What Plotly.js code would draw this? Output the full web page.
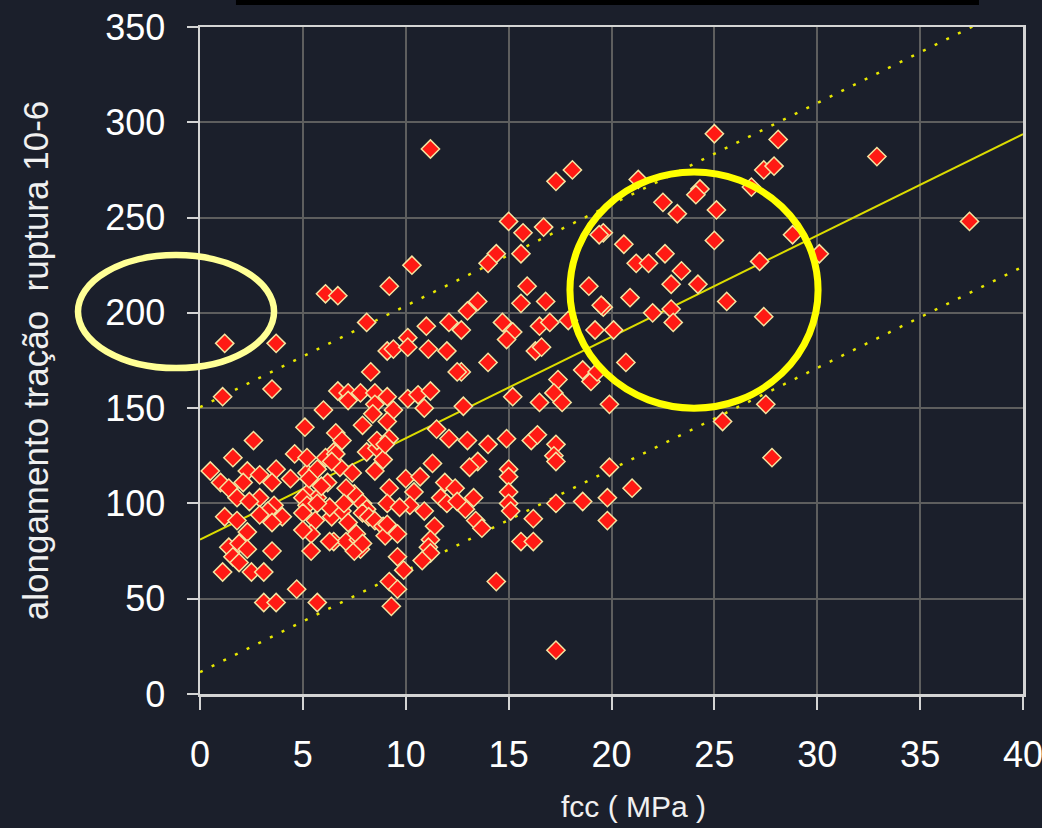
<!DOCTYPE html>
<html>
<head>
<meta charset="utf-8">
<script src="https://cdn.plot.ly/plotly-3.0.1.min.js"></script>
<style>
  html, body { margin: 0; padding: 0; background: rgb(27,31,43); }
  #chart { width: 1042px; height: 828px; }
</style>
</head>
<body>
<div id="chart"></div>
<script>
// Resistência à compressão (fcc, MPa) e alongamento de ruptura à tração (10^-6)
const fcc = [
  25.0, 28.1, 32.9, 27.4, 27.9, 21.3, 24.3, 24.1, 26.8, 22.5, 23.2, 25.1, 19.6, 20.6, 25.0, 28.8,
  30.1, 37.4, 21.2, 21.8, 22.6, 27.2, 23.4, 22.9, 24.2, 20.9, 25.6, 19.6, 22.0, 22.9, 23.0, 27.4,
  20.1, 20.7, 19.9, 27.5, 25.4, 27.8, 19.9, 18.1, 17.3, 15.0, 15.7, 16.7, 14.4, 14.0, 15.6, 19.4,
  15.9, 15.6, 16.8, 18.9, 19.5, 13.5, 13.0, 12.7, 14.7, 15.2, 14.9, 16.5, 17.0, 17.9, 16.3, 16.6,
  14.0, 12.7, 19.2, 18.6, 19.0, 19.3, 17.4, 17.2, 17.6, 15.2, 16.5, 12.8, 13.0, 14.0, 14.9, 16.1,
  16.4, 17.3, 17.2, 17.3, 13.5, 13.1, 15.0, 15.0, 15.0, 15.0, 15.1, 13.3, 12.9, 13.4, 13.7, 16.2,
  15.6, 16.2, 14.4, 17.3, 17.3, 18.6, 19.8, 19.8, 21.0, 11.2, 10.3, 6.1, 6.7, 9.2, 8.1, 1.2,
  3.7, 3.5, 1.1, 9.1, 9.4, 10.1, 10.1, 11.0, 12.1, 11.1, 12.0, 8.3, 12.5, 6.7, 7.2, 7.8,
  7.2, 8.5, 9.1, 8.5, 9.4, 10.1, 10.6, 11.2, 10.9, 6.0, 9.1, 6.6, 6.9, 8.1, 8.6, 8.9,
  8.5, 11.5, 12.1, 11.3, 10.0, 10.7, 11.9, 12.4, 10.4, 10.2, 10.9, 11.7, 12.0, 12.5, 11.4, 11.2,
  11.1, 11.2, 10.8, 7.5, 7.9, 8.1, 6.4, 6.9, 7.2, 7.9, 8.2, 8.5, 8.9, 9.0, 9.6, 6.5,
  7.1, 7.7, 7.8, 7.5, 6.5, 6.8, 7.4, 7.9, 8.6, 9.2, 9.0, 8.4, 6.1, 6.6, 9.2, 5.2,
  5.7, 6.2, 7.1, 5.2, 5.7, 6.3, 7.0, 9.1, 9.7, 9.1, 7.6, 7.9, 9.6, 9.9, 9.2, 9.6,
  9.3, 5.1, 2.6, 1.6, 0.5, 1.0, 1.4, 1.8, 2.3, 2.9, 2.1, 3.7, 3.5, 4.4, 4.6, 5.2,
  6.4, 2.9, 2.4, 3.6, 3.3, 2.9, 4.0, 3.5, 5.0, 5.2, 5.0, 5.7, 5.6, 5.9, 5.3, 5.4,
  5.0, 6.3, 5.4, 1.2, 1.8, 2.3, 1.4, 1.9, 2.3, 3.5, 1.6, 1.9, 1.1, 2.5, 3.1, 4.7,
  3.1, 3.7, 5.7
];
const alongamento = [
  294, 291, 282, 275, 277, 270, 265, 262, 266, 258, 252, 254, 242, 236, 238, 241,
  231, 248, 226, 226, 231, 227, 222, 215, 215, 208, 206, 203, 200, 202, 195, 198,
  191, 174, 152, 152, 143, 124, 119, 275, 269, 248, 242, 245, 231, 226, 231, 241,
  214, 205, 206, 214, 204, 206, 201, 191, 195, 190, 186, 193, 195, 196, 180, 182,
  174, 169, 191, 170, 164, 169, 165, 158, 153, 156, 153, 151, 133, 131, 134, 133,
  136, 131, 125, 122, 122, 119, 118, 114, 106, 100, 96, 103, 97, 91, 87, 92,
  80, 80, 59, 23, 100, 101, 103, 91, 108, 286, 225, 210, 209, 214, 195, 184,
  184, 160, 156, 180, 181, 187, 182, 193, 195, 181, 180, 169, 169, 159, 158, 158,
  154, 158, 156, 152, 149, 155, 157, 159, 150, 149, 143, 137, 133, 127, 129, 123,
  117, 139, 134, 121, 113, 114, 111, 108, 106, 99, 96, 103, 100, 101, 88, 81,
  77, 74, 70, 105, 100, 97, 93, 96, 90, 95, 93, 91, 88, 83, 84, 80,
  80, 81, 76, 75, 127, 119, 116, 141, 133, 134, 131, 147, 124, 126, 108, 116,
  118, 111, 108, 105, 103, 98, 100, 100, 98, 89, 84, 79, 72, 65, 59, 55,
  46, 140, 133, 124, 117, 111, 108, 103, 117, 115, 111, 118, 111, 113, 126, 124,
  122, 103, 101, 99, 96, 94, 93, 90, 103, 99, 95, 100, 91, 109, 113, 84,
  86, 80, 75, 93, 91, 85, 77, 79, 76, 75, 72, 69, 64, 64, 64, 55,
  48, 48, 48
];

// Reta de regressão e limites da faixa (intercepto, inclinação, semi-largura)
const intercepto = 81;
const inclinacao = 5.32;
const faixa = 69.5;
const xTicks = [0, 5, 10, 15, 20, 25, 30, 35, 40];
const yTicks = [0, 50, 100, 150, 200, 250, 300, 350];

const xRange = [0, 40];
const yRange = [0, 350];

const lineX = [0, 40];
const fit = lineX.map(v => intercepto + inclinacao * v);
const upper = lineX.map(v => intercepto + faixa + inclinacao * v);
const lower = lineX.map(v => intercepto - faixa + inclinacao * v);

// Destaques (em unidades dos eixos): elipse à esquerda e círculo central
const destaqueEsq = { x0: -5.93, x1: 3.6, y0: 171, y1: 230.3 };
const destaqueDir = { x0: 17.98, x1: 30.04, y0: 150, y1: 273.9 };

const px = v => (v - xRange[0]) / (xRange[1] - xRange[0]);
const py = v => (v - yRange[0]) / (yRange[1] - yRange[0]);

const yellowDot = { color: '#e8e800', width: 2.5, dash: '3px,10px' };

const traces = [
  {
    x: lineX, y: upper, mode: 'lines', line: yellowDot,
    hoverinfo: 'skip', showlegend: false
  },
  {
    x: lineX, y: lower, mode: 'lines', line: yellowDot,
    hoverinfo: 'skip', showlegend: false
  },
  {
    x: lineX, y: fit, mode: 'lines',
    line: { color: '#dcdc00', width: 2 },
    hoverinfo: 'skip', showlegend: false
  },
  {
    x: fcc, y: alongamento, mode: 'markers', type: 'scatter',
    marker: {
      symbol: 'diamond', size: 14, color: '#ff1a14',
      line: { color: 'rgb(245,228,160)', width: 1.5 }
    },
    showlegend: false
  }
];

const axisFont = { family: 'Liberation Sans, Arial, sans-serif', size: 36, color: '#ffffff' };
const titleFont = { family: 'Liberation Sans, Arial, sans-serif', color: '#f0f0f0' };

const layout = {
  width: 1042, height: 828,
  paper_bgcolor: 'rgb(27,31,43)',
  plot_bgcolor: 'rgb(27,31,43)',
  margin: { l: 200, r: 19, t: 27, b: 134 },
  showlegend: false,
  xaxis: {
    range: xRange, tickvals: xTicks, ticktext: xTicks.map(String),
    showgrid: true, gridcolor: '#5e5e5e', gridwidth: 2,
    zeroline: false,
    showline: true, mirror: true, linecolor: '#d4d4d4', linewidth: 2.5,
    ticks: 'outside', ticklen: 13, tickwidth: 2, tickcolor: '#d4d4d4',
    ticklabelstandoff: 14,
    ticklabeloverflow: 'allow',
    tickfont: axisFont,
    automargin: false
  },
  yaxis: {
    range: yRange, tickvals: yTicks, ticktext: yTicks.map(String),
    showgrid: true, gridcolor: '#5e5e5e', gridwidth: 2,
    zeroline: false,
    showline: true, mirror: true, linecolor: '#d4d4d4', linewidth: 2.5,
    ticks: 'outside', ticklen: 11, tickwidth: 2, tickcolor: '#d4d4d4',
    ticklabelstandoff: 14,
    ticklabeloverflow: 'allow',
    tickfont: axisFont,
    automargin: false,
    title: { text: 'alongamento tração  ruptura 10-6', font: Object.assign({ size: 35 }, titleFont), standoff: 46 }
  },
  // Título do eixo x, ligeiramente deslocado à direita do centro do gráfico
  annotations: [
    {
      text: 'fcc ( MPa )', xref: 'paper', yref: 'paper',
      x: 0.527, y: -0.168, xanchor: 'center', yanchor: 'middle',
      showarrow: false, font: Object.assign({ size: 30 }, titleFont)
    }
  ],
  shapes: [
    {
      type: 'rect', xref: 'paper', yref: 'paper',
      x0: 0.0437, x1: 0.9465, y0: 1.033, y1: 1.06,
      fillcolor: '#000000', line: { width: 0 }
    },
    {
      type: 'circle', xref: 'paper', yref: 'paper', layer: 'above',
      x0: px(destaqueEsq.x0), x1: px(destaqueEsq.x1),
      y0: py(destaqueEsq.y0), y1: py(destaqueEsq.y1),
      line: { color: 'rgb(255,255,150)', width: 6.5 }
    },
    {
      type: 'circle', xref: 'paper', yref: 'paper', layer: 'above',
      x0: px(destaqueDir.x0), x1: px(destaqueDir.x1),
      y0: py(destaqueDir.y0), y1: py(destaqueDir.y1),
      line: { color: '#ffff00', width: 7 }
    }
  ]
};

Plotly.newPlot('chart', traces, layout, { staticPlot: true, displayModeBar: false });
</script>
</body>
</html>
